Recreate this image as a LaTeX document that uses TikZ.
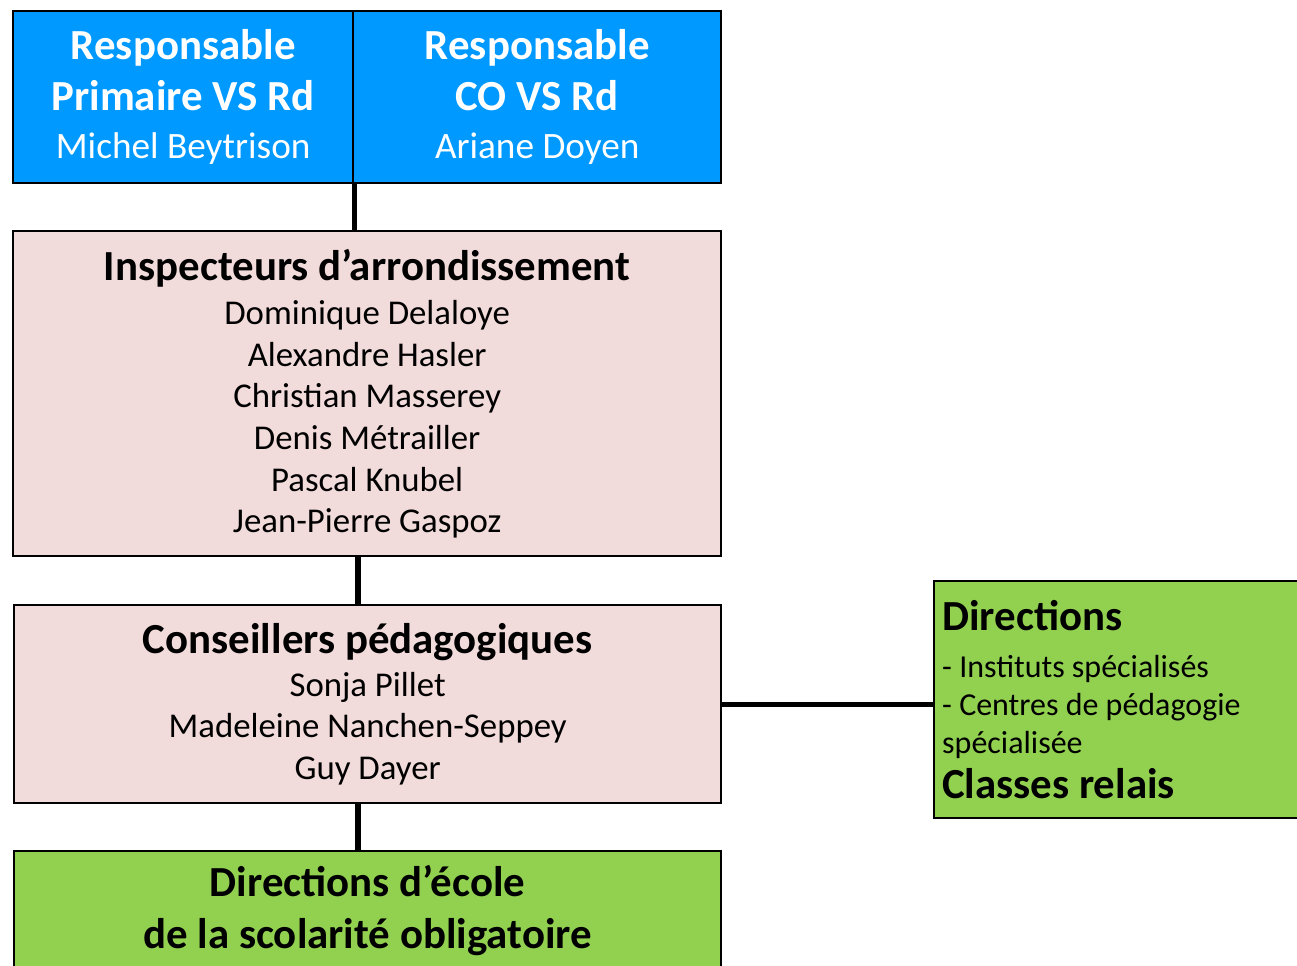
\documentclass[tikz,border=0pt]{standalone}
\usepackage{fontspec}
\setmainfont{Carlito}
\usepackage{xcolor}
\usetikzlibrary{positioning}
\definecolor{respblue}{HTML}{0099FF}
\definecolor{inspink}{HTML}{F2DCDB}
\definecolor{dirgreen}{HTML}{92D050}
\newcommand{\titlefont}{\fontsize{24.4}{28.9}\selectfont\bfseries}
\newcommand{\respname}{\fontsize{21.2}{27.2}\selectfont\mdseries}
\newcommand{\namefont}{\fontsize{19.8}{23.7}\selectfont}
\newcommand{\listfont}{\fontsize{18.2}{21.8}\selectfont}

\begin{document}
\begin{tikzpicture}[x=0.02cm, y=-0.02cm, line width=1.4pt]
\tikzstyle{orgbox}=[draw, rectangle, anchor=north west, inner sep=0pt,
                    align=center, text=black]
\tikzstyle{link}=[line width=3pt]
  \useasboundingbox (0,0) rectangle (1297,965);
  \node[orgbox, fill=respblue, text=white, font=\titlefont, minimum width=6.8cm,
        minimum height=3.44cm] (prim) at (12,10)
        {Responsable\\Primaire VS Rd\\[-1.7pt]{\respname Michel Beytrison}};
  \node[orgbox, fill=respblue, text=white, font=\titlefont, minimum width=7.36cm,
        minimum height=3.44cm] (co) at (352,10)
        {Responsable\\CO VS Rd\\[-1.7pt]{\respname Ariane Doyen}};
  \node[orgbox, fill=inspink, font=\namefont, minimum width=14.16cm,
        minimum height=6.5cm] (insp) at (12,230)
        {{\titlefont Inspecteurs d’arrondissement}\\[1.6pt]
         Dominique Delaloye\\Alexandre Hasler\\Christian Masserey\\
         Denis Métrailler\\Pascal Knubel\\Jean-Pierre Gaspoz};
  \node[orgbox, fill=inspink, font=\namefont, minimum width=14.14cm,
        minimum height=3.96cm] (cons) at (13,604)
        {{\titlefont Conseillers pédagogiques}\\[0.8pt]
         Sonja Pillet\\Madeleine Nanchen-Seppey\\Guy Dayer};
  \node[orgbox, fill=dirgreen, font=\titlefont, minimum width=14.14cm,
        minimum height=2.36cm] (ecole) at (13,850)
        {Directions d’école\\[0.6pt]de la scolarité obligatoire};
  \node[orgbox, fill=dirgreen, font=\listfont, align=flush left, text width=7.38cm,
        inner xsep=0.16cm, minimum height=4.74cm] (spec) at (933,580)
        {{\titlefont Directions}\\[4.5pt]
         - Instituts spécialisés\\- Centres de pédagogie\\spécialisée\\[3.7pt]
         {\titlefont Classes relais}};
  \draw[link] (prim.south east) -- (prim.south east |- insp.north);
  \draw[link] (insp.south -| 358,0) -- (cons.north -| 358,0);
  \draw[link] (cons.south -| 358,0) -- (ecole.north -| 358,0);
  \draw[link] (cons.east) -- (cons.east -| spec.west);
\end{tikzpicture}
\end{document}
